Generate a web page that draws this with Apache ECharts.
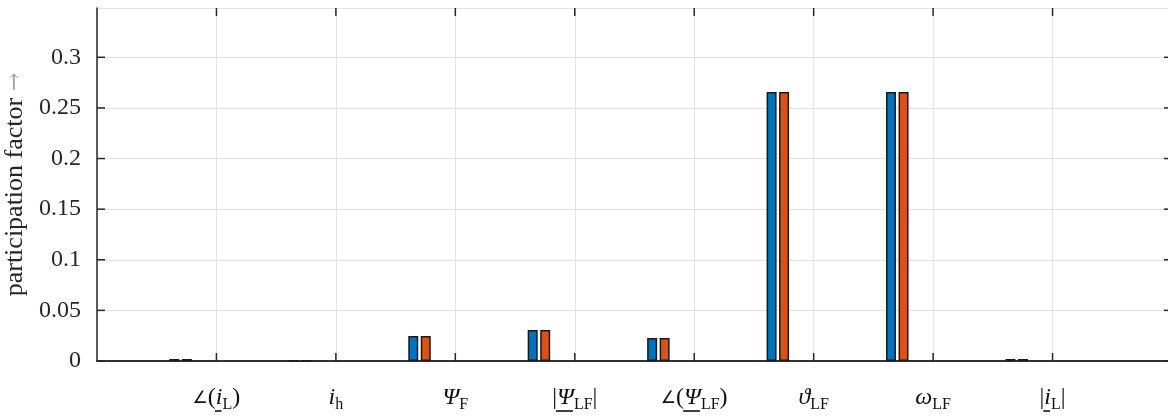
<!DOCTYPE html>
<html>
<head>
    <meta charset="utf-8">
    <title>participation factor</title>
    <script src="https://cdn.jsdelivr.net/npm/echarts@6/dist/echarts.min.js"></script>
    <style>
        html, body { margin: 0; padding: 0; background: #fff; }
        #chart { width: 1168px; height: 417px; }
    </style>
</head>
<body>
<div id="chart"></div>
<script>
    // state variables on the x axis: [style, text] pieces, underlined piece index (-1 = none)
    var states = [
        [[['g', '∠'], ['r', '('], ['i', 'i'], ['s', 'L'], ['r', ')']], 2],
        [[['i', 'i'], ['s', 'h']], -1],
        [[['i', 'Ψ'], ['s', 'F']], -1],
        [[['r', '|'], ['i', 'Ψ'], ['s', 'LF'], ['r', '|']], 1],
        [[['g', '∠'], ['r', '('], ['i', 'Ψ'], ['s', 'LF'], ['r', ')']], 2],
        [[['i', 'ϑ'], ['s', 'LF']], -1],
        [[['i', 'ω'], ['s', 'LF']], -1],
        [[['r', '|'], ['i', 'i'], ['s', 'L'], ['r', '|']], 1]
    ];
    var pfBlue   = [0.002, 0, 0.0247, 0.0306, 0.0226, 0.2656, 0.2656, 0.002];
    var pfOrange = [0.002, 0, 0.0247, 0.0306, 0.0226, 0.2656, 0.2656, 0.002];
    var xTicks = [1, 2, 3, 4, 5, 6, 7, 8];
    var yTicks = [0, 0.05, 0.1, 0.15, 0.2, 0.25, 0.3];
    var xMax = 9, yMax = 0.3487;
    var barShift = 0.3; // bars sit left of each state tick

    function toPoints(vals) {
        return vals.map(function (v, i) { return [i + 1 - barShift, v]; });
    }

    var axisCol = '#262626';
    var gridCol = '#e3e3e3';
    var txtCol = '#111';

    // label text styles
    var baseRich = {
        g: { fontFamily: 'DejaVu Sans', fontSize: 17, color: txtCol, lineHeight: 24, verticalAlign: 'top', padding: [4, 0, 0, 0] },
        r: { fontFamily: 'Liberation Serif', fontSize: 24, color: txtCol, lineHeight: 24 },
        i: { fontFamily: 'Liberation Serif', fontStyle: 'italic', fontSize: 24, color: txtCol, lineHeight: 24 },
        s: { fontFamily: 'Liberation Serif', fontSize: 16, color: txtCol, lineHeight: 16, verticalAlign: 'top', padding: [11, 0, 0, 0] }
    };
    var fontOf = {
        g: '17px "DejaVu Sans"',
        r: '24px "Liberation Serif"',
        i: 'italic 24px "Liberation Serif"',
        s: '16px "Liberation Serif"'
    };
    var ctx = document.createElement('canvas').getContext('2d');
    function textW(st, t) { ctx.font = fontOf[st]; return ctx.measureText(t).width; }

    // build rich strings, underline drawn as a second line with a filled token
    var labelRich = Object.assign({}, baseRich);
    var labelText = states.map(function (st, n) {
        var parts = st[0], ul = st[1];
        var line1 = parts.map(function (p) { return '{' + p[0] + '|' + p[1] + '}'; }).join('');
        if (ul < 0) return line1;
        var before = 0, mid = 0, after = 0;
        parts.forEach(function (p, k) {
            var w = textW(p[0], p[1]);
            if (k < ul) before += w; else if (k === ul) mid += w; else after += w;
        });
        var pre = 'u' + n;
        labelRich[pre + 'a'] = { width: before - 1, height: 2, lineHeight: 2, fontSize: 1 };
        labelRich[pre + 'b'] = { width: mid, height: 1.6, lineHeight: 2, fontSize: 1, backgroundColor: txtCol };
        labelRich[pre + 'c'] = { width: after + 1, height: 2, lineHeight: 2, fontSize: 1 };
        return line1 + '\n{' + pre + 'a| }{' + pre + 'b| }{' + pre + 'c| }';
    });

    // inward ticks on all four sides, placed through the axes
    function tickItem(params, api) {
        var dir = api.value(2);
        var v = api.value(dir === 0 ? 0 : 1);
        var a, b, c, d;
        if (dir === 0) {
            a = api.coord([v, 0]); b = api.coord([v, yMax]);
            c = [a[0], a[1] - 8]; d = [b[0], b[1] + 8];
        } else {
            a = api.coord([0, v]); b = api.coord([xMax, v]);
            c = [a[0] + 8, a[1]]; d = [b[0] - 8, b[1]];
        }
        var st = { stroke: axisCol, lineWidth: 1.5 };
        return { type: 'group', children: [
            { type: 'line', shape: { x1: a[0], y1: a[1], x2: c[0], y2: c[1] }, style: st },
            { type: 'line', shape: { x1: b[0], y1: b[1], x2: d[0], y2: d[1] }, style: st }
        ] };
    }
    var tickData = xTicks.map(function (x) { return [x, 0, 0]; })
        .concat(yTicks.map(function (y) { return [0, y, 1]; }));

    var myChart = echarts.init(document.getElementById('chart'));
    var noTick = { show: false };

    var option = {
        animation: false,
        grid: { left: 97, top: 8, width: 1075, height: 353, containLabel: false, outerBoundsMode: 'none' },
        xAxis: [{
            type: 'value', min: 0, max: xMax, interval: 1, position: 'bottom',
            axisLine: { show: true, lineStyle: { color: axisCol, width: 1.5 } },
            axisTick: noTick,
            splitLine: { show: true, lineStyle: { color: gridCol, width: 1 } },
            axisLabel: {
                margin: 25,
                formatter: function (v) { return labelText[v - 1] || ''; },
                rich: labelRich
            }
        }, {
            type: 'value', min: 0, max: xMax, interval: 1, position: 'top',
            axisLine: { show: true, lineStyle: { color: axisCol, width: 1.5 } },
            axisTick: noTick, axisLabel: { show: false }, splitLine: { show: false }
        }],
        yAxis: [{
            type: 'value', min: 0, max: yMax, interval: 0.05, position: 'left',
            name: '{t|participation factor}  {a|→}',
            nameLocation: 'middle', nameRotate: 90, nameGap: 62,
            nameTextStyle: {
                rich: {
                    t: { fontFamily: 'Liberation Serif', fontSize: 26, color: '#262626' },
                    a: { fontFamily: 'DejaVu Serif', fontSize: 22, color: '#a0a0a0' }
                }
            },
            axisLine: { show: true, lineStyle: { color: axisCol, width: 1.5 } },
            axisTick: noTick,
            splitLine: { show: true, lineStyle: { color: gridCol, width: 1 } },
            axisLabel: {
                margin: 16, fontFamily: 'Liberation Serif', fontSize: 24, color: '#262626',
                formatter: function (v) {
                    for (var k = 0; k < yTicks.length; k++) {
                        if (Math.abs(yTicks[k] - v) < 1e-9) return String(yTicks[k]);
                    }
                    return '';
                }
            }
        }, {
            type: 'value', min: 0, max: yMax, interval: 0.05, position: 'right',
            axisLine: { show: false },
            axisTick: noTick, axisLabel: { show: false }, splitLine: { show: false }
        }],
        series: [{
            name: 'blue', type: 'bar', xAxisIndex: 0, yAxisIndex: 0,
            barWidth: 10, barGap: '25%',
            itemStyle: { color: '#0072BD', borderColor: '#1a1a1a', borderWidth: 1.5 },
            data: toPoints(pfBlue)
        }, {
            name: 'orange', type: 'bar', xAxisIndex: 0, yAxisIndex: 0,
            barWidth: 10, barGap: '25%',
            itemStyle: { color: '#D95319', borderColor: '#1a1a1a', borderWidth: 1.5 },
            data: toPoints(pfOrange)
        }, {
            name: 'ticks', type: 'custom', xAxisIndex: 0, yAxisIndex: 0,
            renderItem: tickItem, data: tickData, silent: true, z: 5
        }]
    };

    myChart.setOption(option);
</script>
</body>
</html>
